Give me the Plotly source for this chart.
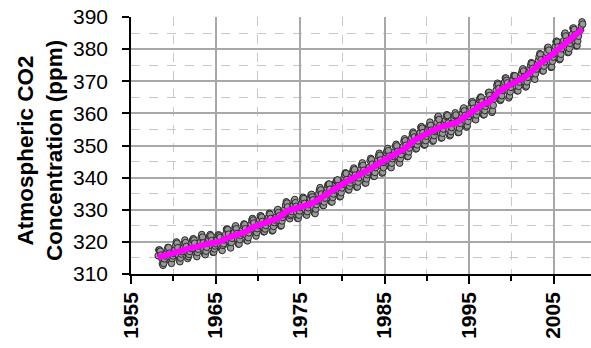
import plotly.graph_objects as go

# Monthly CO2 (ppm), March 1958 .. June 2008
co2_1958_1967 = [
    315.7, 317.5, 317.5, 317.1, 315.9, 314.9, 313.2, 312.7, 313.3, 314.7,
    315.6, 316.4, 316.7, 317.7, 318.3, 318.2, 316.5, 314.8, 313.8, 313.3, 314.8, 315.6,
    316.4, 317.0, 317.6, 319.0, 320.0, 319.6, 318.2, 315.9, 314.2, 313.8, 315.0, 316.2,
    316.9, 317.7, 318.5, 319.5, 320.6, 319.8, 318.6, 316.8, 314.8, 315.4, 316.1, 317.0,
    317.9, 318.6, 319.7, 320.6, 321.0, 320.6, 319.6, 317.4, 316.3, 315.4, 316.7, 317.7,
    318.7, 319.1, 319.9, 321.4, 322.3, 321.5, 319.7, 317.8, 316.2, 316.0, 317.1, 318.3,
    319.6, 320.1, 320.7, 321.8, 322.3, 321.9, 320.4, 318.7, 316.7, 316.8, 317.8, 318.7,
    319.4, 320.4, 320.9, 322.1, 322.2, 321.9, 321.4, 318.8, 317.8, 317.3, 318.9, 319.4,
    320.6, 321.6, 322.4, 323.9, 324.0, 323.8, 322.4, 320.4, 318.6, 318.1, 319.8, 321.1,
    322.1, 322.5, 323.0, 324.4, 325.0, 324.1, 322.6, 320.9, 319.3, 319.3, 320.7, 322.0,
]
co2_1968_1977 = [
    322.6, 323.2, 323.9, 325.0, 325.6, 325.4, 324.1, 322.0, 320.4, 320.3, 321.3, 322.8,
    324.0, 324.4, 325.6, 326.7, 327.3, 326.8, 325.9, 323.7, 322.4, 321.8, 322.9, 324.1,
    325.0, 326.0, 326.9, 328.1, 328.1, 327.7, 326.4, 324.7, 323.1, 323.2, 324.0, 325.1,
    326.2, 326.7, 327.2, 327.8, 328.9, 328.6, 327.3, 325.5, 323.4, 323.6, 324.8, 326.0,
    326.8, 327.6, 327.8, 329.7, 330.1, 329.1, 328.1, 326.3, 324.9, 325.1, 326.5, 327.6,
    328.5, 329.6, 330.3, 331.5, 332.5, 332.1, 330.9, 329.3, 327.5, 327.2, 328.2, 328.6,
    329.4, 330.7, 331.5, 332.7, 333.2, 332.2, 331.1, 329.1, 327.3, 327.3, 328.3, 329.6,
    330.7, 331.5, 331.9, 333.2, 333.9, 333.5, 332.0, 330.0, 328.5, 328.3, 329.4, 330.6,
    331.6, 332.8, 333.5, 334.6, 334.8, 334.0, 333.1, 330.7, 329.0, 328.8, 330.2, 331.6,
    332.7, 333.1, 335.0, 336.1, 336.9, 336.2, 334.9, 332.6, 331.3, 331.3, 332.4, 333.6,
]
co2_1978_1987 = [
    335.0, 335.3, 336.7, 337.7, 338.0, 338.0, 336.4, 334.4, 332.4, 332.4, 333.8, 334.9,
    336.1, 336.7, 338.3, 339.0, 339.2, 339.3, 337.5, 335.8, 334.0, 334.2, 335.3, 336.8,
    337.9, 338.3, 340.0, 340.9, 341.5, 341.3, 339.4, 337.7, 336.2, 336.2, 337.3, 338.3,
    339.3, 340.6, 341.6, 342.5, 343.0, 342.5, 340.8, 338.4, 337.0, 337.1, 338.6, 339.9,
    341.0, 341.7, 342.8, 344.0, 344.6, 343.8, 342.3, 340.1, 338.3, 338.3, 339.6, 340.9,
    341.7, 342.9, 343.3, 345.3, 346.0, 345.6, 344.2, 342.3, 340.4, 340.4, 341.6, 343.1,
    344.1, 344.8, 345.5, 346.8, 347.6, 347.0, 345.5, 343.6, 341.4, 341.7, 343.1, 344.7,
    345.2, 346.2, 347.7, 348.3, 349.1, 348.4, 346.7, 345.0, 343.3, 343.1, 344.5, 345.9,
    346.6, 347.3, 348.0, 349.8, 350.4, 349.9, 348.2, 346.1, 345.2, 344.5, 345.9, 347.2,
    348.5, 348.7, 349.7, 351.3, 352.1, 351.5, 350.1, 348.1, 346.5, 346.6, 348.0, 349.2,
]
co2_1988_1997 = [
    350.4, 351.6, 352.4, 353.7, 354.2, 353.7, 352.7, 350.4, 348.9, 349.1, 350.2, 351.4,
    352.9, 353.3, 354.0, 355.6, 355.9, 355.4, 354.0, 351.8, 350.1, 350.3, 351.5, 352.9,
    353.8, 355.0, 355.7, 356.3, 357.3, 356.3, 354.8, 353.0, 351.3, 351.6, 353.1, 354.3,
    354.8, 355.7, 357.2, 358.7, 359.1, 358.1, 356.2, 353.9, 352.3, 352.4, 353.8, 355.1,
    356.3, 357.1, 357.9, 359.1, 359.6, 359.3, 357.0, 354.9, 353.0, 353.3, 354.3, 355.6,
    357.0, 357.3, 358.5, 359.3, 360.2, 359.5, 357.3, 355.6, 354.0, 354.1, 355.4, 356.9,
    358.2, 358.9, 360.0, 361.2, 361.7, 360.8, 359.4, 357.5, 355.7, 356.1, 357.5, 359.0,
    359.9, 360.9, 361.8, 363.3, 363.7, 363.2, 361.6, 359.1, 358.2, 358.0, 359.5, 360.7,
    362.1, 363.2, 364.2, 364.6, 365.1, 364.9, 363.6, 361.4, 359.5, 359.6, 360.9, 362.2,
    363.1, 364.0, 364.5, 366.4, 366.6, 365.6, 364.3, 362.3, 360.3, 360.8, 362.5, 364.4,
]
co2_1998_2008 = [
    365.3, 366.0, 367.2, 368.7, 369.4, 369.0, 367.8, 366.0, 364.0, 364.4, 365.5, 367.1,
    368.2, 369.1, 369.7, 371.0, 371.0, 370.3, 369.5, 366.9, 364.8, 365.4, 366.7, 368.1,
    369.3, 369.5, 370.6, 371.8, 371.6, 371.7, 369.9, 368.1, 367.0, 367.0, 368.4, 369.7,
    370.6, 371.5, 372.4, 373.4, 373.9, 373.2, 371.5, 369.6, 368.2, 368.5, 369.8, 371.2,
    372.5, 373.2, 374.1, 375.0, 375.8, 375.5, 374.0, 371.9, 370.8, 370.6, 372.3, 373.8,
    374.9, 375.6, 376.5, 377.7, 378.6, 378.3, 376.7, 374.4, 373.2, 373.2, 374.7, 376.0,
    377.0, 377.9, 378.9, 380.4, 380.6, 379.7, 377.5, 376.0, 374.3, 374.5, 376.2, 377.5,
    378.5, 379.7, 380.8, 382.3, 382.5, 382.2, 380.7, 378.7, 376.7, 377.0, 378.4, 380.1,
    381.4, 382.2, 382.7, 384.6, 385.0, 384.1, 382.5, 380.4, 378.9, 379.1, 380.2, 381.8,
    382.9, 383.9, 384.6, 386.5, 386.6, 386.1, 384.5, 382.0, 381.0, 381.1, 382.5, 384.0,
    385.5, 385.8, 386.0, 387.2, 388.5, 387.8,
]
first_month_year = 1958
first_month_index = 2  # March

# Smoothed trend line (magenta)
trend_years = [1958.2] + [y + 0.5 for y in range(1959, 2008)] + [2008.4]
trend_co2 = [
    315.2,
    315.97, 316.91, 317.64, 318.45, 318.99, 319.62, 320.04, 321.38, 322.16, 323.04,
    324.62, 325.68, 326.32, 327.45, 329.68, 330.18, 331.11, 332.04, 333.83, 335.40,
    336.84, 338.75, 340.11, 341.45, 343.05, 344.65, 346.12, 347.42, 349.19, 351.57,
    353.12, 354.39, 355.61, 356.45, 357.10, 358.83, 360.82, 362.61, 363.73, 366.70,
    368.38, 369.55, 371.14, 373.28, 375.80, 377.52, 379.80, 381.90, 383.79,
    386.2,
]

x_ticks = [1955, 1965, 1975, 1985, 1995, 2005]
y_ticks = [310, 320, 330, 340, 350, 360, 370, 380, 390]

co2_monthly = co2_1958_1967 + co2_1968_1977 + co2_1978_1987 + co2_1988_1997 + co2_1998_2008
month_years = [first_month_year + (first_month_index + i + 0.5) / 12 for i in range(len(co2_monthly))]

W, H = 591, 348
L, R, T, B = 131, 0, 17, 74
px_per_year = 8.45
x_max = 1955 + (W - L - R) / px_per_year

fig = go.Figure()
fig.add_trace(go.Scatter(
    x=month_years, y=co2_monthly, mode="markers",
    marker=dict(size=6.5, color="#9a9a9a", line=dict(color="#2a2a2a", width=1)),
    showlegend=False, hoverinfo="skip",
))
fig.add_trace(go.Scatter(
    x=trend_years, y=trend_co2, mode="lines",
    line=dict(color="#ff00ff", width=6),
    showlegend=False, hoverinfo="skip",
))

fig.update_layout(
    width=W, height=H,
    margin=dict(l=L, r=R, t=T, b=B, pad=0),
    paper_bgcolor="white", plot_bgcolor="white",
    font=dict(family="Liberation Sans, Arial, sans-serif", color="black"),
    annotations=[dict(
        text="<b>Atmospheric CO2<br>Concentration (ppm)</b>",
        xref="paper", yref="paper",
        x=(40 - L) / (W - L - R), y=1 - (151 - T) / (H - T - B),
        xanchor="center", yanchor="middle", textangle=-90, showarrow=False,
        font=dict(size=22.5, family="Liberation Sans, Arial, sans-serif", color="black"),
    )],
)
fig.update_xaxes(
    range=[1955, x_max], tickmode="array", tickvals=x_ticks,
    ticktext=[str(v) for v in x_ticks], tickangle=-90,
    tickfont=dict(size=21, weight="bold", color="black"),
    ticks="outside", ticklen=8, tickwidth=1.5, tickcolor="black",
    showline=True, linecolor="black", linewidth=1.5,
    showgrid=True, gridcolor="#a8a8a8", gridwidth=1.5,
    minor=dict(tickvals=[1960, 1970, 1980, 1990, 2000], ticks="outside", ticklen=5,
               tickwidth=1.5, tickcolor="black",
               showgrid=True, gridcolor="#c8c8c8", griddash="dash", gridwidth=1),
    zeroline=False,
)
fig.update_yaxes(
    range=[310, 390], tickmode="array", tickvals=y_ticks,
    tickfont=dict(size=21, color="black"),
    ticks="outside", ticklen=7, tickwidth=1.5, tickcolor="black",
    ticklabelstandoff=10,
    showline=True, linecolor="black", linewidth=1.5,
    showgrid=True, gridcolor="#a8a8a8", gridwidth=1.5,
    minor=dict(tickvals=[315, 325, 335, 345, 355, 365, 375, 385], ticks="",
               showgrid=True, gridcolor="#c8c8c8", griddash="dash", gridwidth=1),
    zeroline=False,
)

fig.write_html("out.html")
